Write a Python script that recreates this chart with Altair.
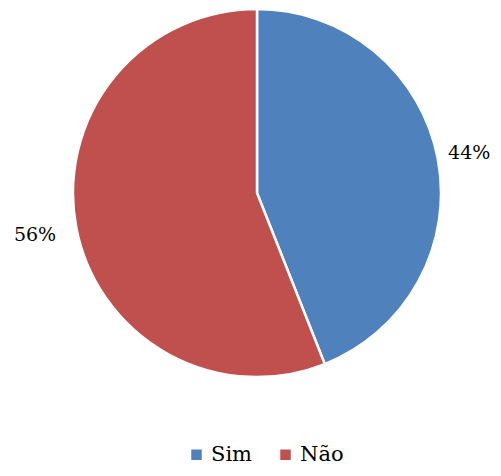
import altair as alt
import pandas as pd

categories = ["Sim", "Não"]
values = [44, 56]
labels = ["44%", "56%"]
order = [0, 1]
colors = ["#4F81BD", "#C0504D"]

df = pd.DataFrame({"cat": categories, "val": values, "label": labels, "ord": order})

FONT = "Palatino Linotype, Book Antiqua, Palatino, DejaVu Serif, serif"
CX, CY = 249, 185

base = alt.Chart(df).encode(
    theta=alt.Theta("val:Q", stack=True),
    order=alt.Order("ord:Q"),
)

arcs = base.mark_arc(radius=184, stroke="white", strokeWidth=2.5).encode(
    x=alt.value(CX),
    y=alt.value(CY),
    color=alt.Color(
        "cat:N",
        scale=alt.Scale(domain=categories, range=colors),
        sort=categories,
        legend=alt.Legend(
            title=None,
            orient="none",
            direction="horizontal",
            legendX=178,
            legendY=436,
            symbolType="square",
            symbolSize=110,
            symbolStrokeWidth=0,
            labelFont=FONT,
            labelFontSize=21,
            labelColor="#000000",
            columnPadding=22,
            symbolOffset=0,
        ),
    ),
)

def label_layer(cat, r):
    return base.mark_text(
        radius=r, font=FONT, fontSize=19, color="#000000"
    ).encode(
        x=alt.value(CX),
        y=alt.value(CY),
        text=alt.condition(alt.datum.cat == cat, "label:N", alt.value("")),
    )

chart = (
    alt.layer(arcs, label_layer("Sim", 216), label_layer("Não", 226))
    .properties(width=485, height=460, padding=0, autosize="none")
    .configure_view(stroke=None)
)

chart.save("out.html", embed_options={"renderer": "svg", "actions": False})
